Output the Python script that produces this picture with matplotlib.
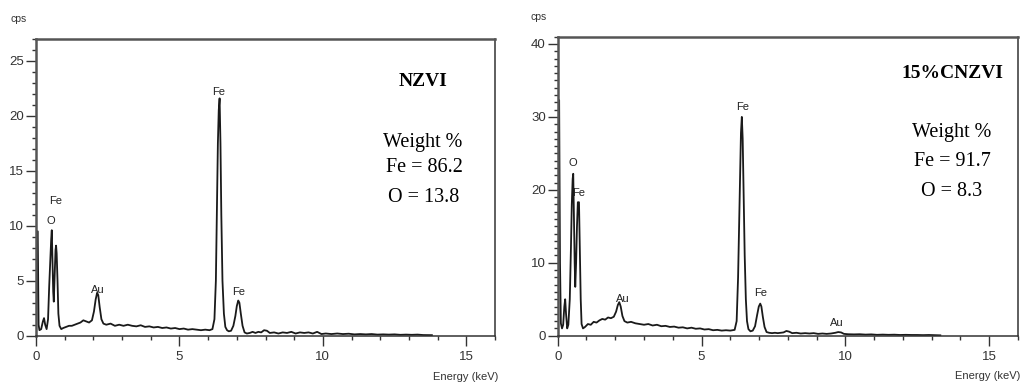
import matplotlib
matplotlib.use("Agg")
import matplotlib.pyplot as plt
from matplotlib.ticker import MultipleLocator

# ---------------- data ----------------
energy_nzvi = [0.00, 0.04, 0.06, 0.09, 0.12, 0.18, 0.24, 0.28, 0.32, 0.37, 0.42, 0.46, 0.50, 0.53,
               0.55, 0.57, 0.60, 0.62, 0.65, 0.68, 0.70, 0.72, 0.75, 0.78, 0.82, 0.88, 0.95, 1.05,
               1.15, 1.25, 1.35, 1.45, 1.55, 1.65, 1.75, 1.85, 1.95, 2.02, 2.08, 2.13, 2.17, 2.22,
               2.28, 2.35, 2.45, 2.60, 2.75, 2.90, 3.05, 3.20, 3.35, 3.50, 3.65, 3.80, 3.95, 4.10,
               4.25, 4.40, 4.55, 4.70, 4.85, 5.00, 5.15, 5.30, 5.45, 5.60, 5.75, 5.90, 6.05, 6.15,
               6.22, 6.27, 6.31, 6.34, 6.37, 6.40, 6.43, 6.46, 6.50, 6.55, 6.60, 6.66, 6.72, 6.80,
               6.88, 6.95, 7.00, 7.05, 7.09, 7.14, 7.20, 7.27, 7.35, 7.45, 7.55, 7.65, 7.75, 7.85,
               7.95, 8.05, 8.15, 8.30, 8.45, 8.60, 8.75, 8.90, 9.05, 9.20, 9.35, 9.50, 9.65, 9.80,
               9.95, 10.1, 10.3, 10.5, 10.7, 10.9, 11.1, 11.3, 11.5, 11.7, 11.9, 12.1, 12.3, 12.5,
               12.7, 12.9, 13.1, 13.3, 13.5, 13.8]
cps_nzvi = [0.2, 9.5, 9.5, 1.0, 0.5, 0.6, 1.3, 1.6, 1.0, 0.6, 1.5, 4.5, 7.0, 8.8,
            9.6, 7.5, 4.0, 3.1, 5.5, 7.8, 8.2, 7.5, 5.0, 2.0, 0.9, 0.6, 0.7, 0.8,
            0.9, 0.9, 1.0, 1.1, 1.2, 1.4, 1.3, 1.2, 1.4, 2.2, 3.3, 3.9, 3.7, 2.6,
            1.5, 1.1, 1.0, 1.1, 0.9, 1.0, 0.9, 1.0, 0.9, 0.85, 0.95, 0.8, 0.85, 0.75,
            0.8, 0.7, 0.75, 0.65, 0.7, 0.6, 0.65, 0.55, 0.6, 0.55, 0.5, 0.55, 0.5, 0.6,
            1.5, 5.0, 12.0, 17.5, 20.5, 21.6, 17.5, 11.0, 5.0, 2.0, 0.8, 0.5, 0.4, 0.45,
            0.9, 1.8, 2.7, 3.2, 3.0, 2.0, 0.9, 0.3, 0.2, 0.25, 0.35, 0.25, 0.35, 0.3,
            0.5, 0.45, 0.25, 0.3, 0.2, 0.3, 0.25, 0.35, 0.2, 0.3, 0.25, 0.3, 0.2, 0.35,
            0.15, 0.2, 0.15, 0.2, 0.15, 0.18, 0.12, 0.15, 0.12, 0.15, 0.1, 0.12, 0.1, 0.12,
            0.08, 0.1, 0.08, 0.1, 0.06, 0.05]

energy_cnzvi = [0.00, 0.03, 0.05, 0.08, 0.11, 0.15, 0.19, 0.23, 0.26, 0.29, 0.33, 0.37, 0.42, 0.46,
                0.49, 0.52, 0.54, 0.56, 0.59, 0.61, 0.64, 0.67, 0.70, 0.74, 0.77, 0.80, 0.83, 0.88,
                0.95, 1.05, 1.15, 1.25, 1.35, 1.45, 1.55, 1.65, 1.75, 1.85, 1.95, 2.03, 2.09, 2.14,
                2.19, 2.25, 2.32, 2.42, 2.55, 2.70, 2.85, 3.00, 3.15, 3.30, 3.45, 3.60, 3.75, 3.90,
                4.05, 4.20, 4.35, 4.50, 4.65, 4.80, 4.95, 5.10, 5.25, 5.40, 5.55, 5.70, 5.85, 6.00,
                6.15, 6.22, 6.27, 6.31, 6.34, 6.37, 6.40, 6.43, 6.46, 6.50, 6.54, 6.58, 6.63, 6.70,
                6.78, 6.86, 6.93, 6.99, 7.04, 7.08, 7.13, 7.19, 7.26, 7.35, 7.45, 7.55, 7.65, 7.75,
                7.85, 7.95, 8.05, 8.15, 8.30, 8.45, 8.60, 8.75, 8.90, 9.05, 9.20, 9.35, 9.50, 9.65,
                9.75, 9.85, 9.95, 10.1, 10.3, 10.5, 10.7, 10.9, 11.1, 11.3, 11.5, 11.7, 11.9, 12.1,
                12.3, 12.5, 12.7, 12.9, 13.1, 13.3]
cps_cnzvi = [0.5, 32.3, 32.3, 10.0, 1.7, 1.0, 1.5, 4.0, 5.0, 3.0, 1.0, 1.5, 5.0, 12.0,
             18.0, 21.5, 22.2, 17.0, 10.0, 6.7, 10.0, 15.0, 18.3, 18.3, 12.0, 5.0, 1.6, 1.0,
             1.2, 1.6, 1.5, 1.9, 1.8, 2.1, 2.3, 2.2, 2.5, 2.4, 2.6, 3.3, 4.2, 4.6,
             4.0, 2.7, 2.0, 1.8, 1.9, 1.7, 1.6, 1.5, 1.6, 1.4, 1.5, 1.3, 1.35, 1.2,
             1.25, 1.1, 1.15, 1.0, 1.1, 0.95, 1.0, 0.85, 0.9, 0.75, 0.8, 0.7, 0.75, 0.7,
             0.8, 2.0, 8.0, 16.0, 22.0, 27.8, 30.0, 27.0, 20.0, 11.0, 5.0, 2.0, 0.9, 0.6,
             0.7, 1.3, 2.8, 4.0, 4.4, 4.0, 2.6, 1.2, 0.5, 0.4, 0.35, 0.4, 0.35, 0.4,
             0.45, 0.65, 0.55, 0.35, 0.4, 0.3, 0.35, 0.3, 0.35, 0.25, 0.3, 0.25, 0.3, 0.4,
             0.5, 0.45, 0.25, 0.2, 0.18, 0.2, 0.15, 0.18, 0.12, 0.15, 0.12, 0.14, 0.1, 0.12,
             0.1, 0.1, 0.08, 0.1, 0.07, 0.05]

peaks_nzvi = [("Fe", 6.36, 22.2), ("Fe", 0.70, 12.3), ("O", 0.52, 10.4),
              ("Au", 2.17, 4.2), ("Fe", 7.06, 4.0)]
peaks_cnzvi = [("O", 0.53, 23.7), ("Fe", 0.72, 19.5), ("Fe", 6.43, 31.3),
               ("Au", 2.27, 5.0), ("Fe", 7.06, 5.85), ("Au", 9.70, 1.75)]

sample_names = ["NZVI", "15%CNZVI"]
weight_lines = [["Weight %", "Fe = 86.2", "O = 13.8"],
                ["Weight %", "Fe = 91.7", "O = 8.3"]]
y_limits = [27, 41]
y_major = [5, 10]
x_ticks = [0, 5, 10, 15]

# ---------------- figure ----------------
W, H = 1024, 385
fig = plt.figure(figsize=(W / 100, H / 100), dpi=100)
sans = ["Liberation Sans Narrow", "Liberation Sans", "DejaVu Sans"]
serif = ["Liberation Serif", "DejaVu Serif"]

# axes boxes in pixels: left, bottom(from top), right, top(from top)
boxes = [(36, 335.7, 495, 39), (557.7, 335.7, 1018, 36.7)]
axes = []
for (l, b, r, t) in boxes:
    ax = fig.add_axes([l / W, 1 - b / H, (r - l) / W, (b - t) / H])
    axes.append(ax)

spectra = [(energy_nzvi, cps_nzvi), (energy_cnzvi, cps_cnzvi)]
peak_sets = [peaks_nzvi, peaks_cnzvi]

for i, ax in enumerate(axes):
    e, c = spectra[i]
    ax.plot(e, c, color="#1a1a1a", lw=1.3)
    ax.set_xlim(0, 16)
    ax.set_ylim(0, y_limits[i])
    ax.set_xticks(x_ticks)
    ax.xaxis.set_minor_locator(MultipleLocator(1))
    ax.yaxis.set_major_locator(MultipleLocator(y_major[i]))
    ax.yaxis.set_minor_locator(MultipleLocator(1))
    ax.tick_params(which="major", direction="out", length=7, width=1.0,
                   color="#333333", labelsize=9.5, pad=1.5)
    ax.tick_params(axis="x", which="major", pad=4)
    ax.tick_params(which="minor", direction="out", length=3, width=1.0, color="#333333")
    for lab in ax.get_xticklabels() + ax.get_yticklabels():
        lab.set_family(sans)
        lab.set_color("#333333")
    for side in ["left", "top"]:
        ax.spines[side].set_linewidth(1.8)
        ax.spines[side].set_color("#555555")
    for side in ["right", "bottom"]:
        ax.spines[side].set_linewidth(1.1)
        ax.spines[side].set_color("#333333")
    for name, x, y in peak_sets[i]:
        ax.text(x, y, name, ha="center", va="center", fontsize=8,
                family=sans, color="#222222")

# sample names and weight %
name_pos = [(423, 82), (952, 73)]
weight_pos = [[(423, 142), (424, 168), (424, 198)],
              [(952, 132), (952, 162), (952, 192)]]
for i in range(2):
    fig.text(name_pos[i][0] / W, 1 - name_pos[i][1] / H, sample_names[i],
             ha="center", va="center", fontsize=14, fontweight="bold", family=serif)
    for txt, (px, py) in zip(weight_lines[i], weight_pos[i]):
        fig.text(px / W, 1 - py / H, txt, ha="center", va="center",
                 fontsize=14.5, family=serif)

# cps labels and energy labels
for px, py in [(19, 19), (539, 17)]:
    fig.text(px / W, 1 - py / H, "cps", ha="center", va="center",
             fontsize=7.5, family=sans, color="#333333")
for px, py in [(498, 377), (1020, 376)]:
    fig.text(px / W, 1 - py / H, "Energy (keV)", ha="right", va="center",
             fontsize=8, family=sans, color="#333333")

fig.savefig("out.png", dpi=100)
